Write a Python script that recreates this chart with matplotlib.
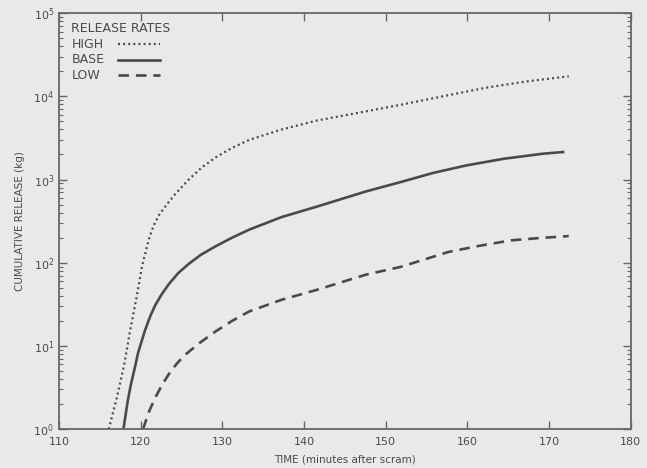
import matplotlib
matplotlib.use("Agg")
import matplotlib.pyplot as plt
from matplotlib.lines import Line2D
from matplotlib.ticker import LogLocator, NullFormatter

# time (minutes after scram) and cumulative release (kg) for each release rate
high_t = [116.1, 117.1, 118.0, 118.7, 119.5, 120.2, 121.0, 121.6, 122.3, 123.2,
          124.3, 125.9, 127.5, 129.2, 131.2, 133.3, 137.3, 141.5, 147.6, 151.8,
          157.0, 162.1, 167.0, 172.4]
high_kg = [1.0, 2.4, 6.0, 15, 38, 93, 190, 280, 380, 500,
           680, 1000, 1400, 1850, 2400, 3000, 4000, 5100, 6600, 7900,
           10000, 12600, 15000, 17400]

base_t = [117.9, 118.4, 118.8, 119.3, 119.7, 120.5, 121.2, 121.8, 122.6, 123.5,
          124.6, 125.9, 127.4, 129.2, 131.2, 133.3, 137.3, 141.5, 147.6, 151.8,
          155.8, 159.9, 164.5, 169.2, 171.7]
base_kg = [1.0, 2.1, 3.4, 5.5, 8.3, 15, 23, 31, 42, 56,
           75, 97, 125, 158, 200, 250, 355, 470, 720, 930,
           1200, 1480, 1780, 2040, 2140]

low_t = [120.3, 121.0, 121.8, 122.7, 123.7, 124.6, 125.5, 127.3, 129.2, 131.2,
         133.3, 137.3, 141.5, 147.6, 151.8, 157.7, 161.5, 165.4, 168.8, 172.4]
low_kg = [1.0, 1.6, 2.4, 3.5, 5.0, 6.4, 7.9, 11, 15, 20,
          26, 36, 47, 72, 89, 135, 160, 186, 198, 209]

x_ticks = [110, 120, 130, 140, 150, 160, 170, 180]

paper = "#e9e9e7"
ink = "#4a4a4a"

fig = plt.figure(figsize=(6.47, 4.68), dpi=100, facecolor=paper)
ax = fig.add_axes([0.091, 0.083, 0.884, 0.889], facecolor=paper)

ax.plot(high_t, high_kg, color=ink, lw=1.6, linestyle=(0, (0.9, 1.4)))
ax.plot(base_t, base_kg, color=ink, lw=1.9, linestyle="-")
ax.plot(low_t, low_kg, color=ink, lw=1.9, linestyle=(0, (4, 2.6)))

ax.set_yscale("log")
ax.set_xlim(110, 180)
ax.set_ylim(1, 1e5)
ax.set_xticks(x_ticks)
ax.yaxis.set_minor_locator(LogLocator(base=10, subs=range(2, 10)))
ax.yaxis.set_minor_formatter(NullFormatter())

for side in ax.spines.values():
    side.set_color("#666666")
    side.set_linewidth(1.3)

ax.tick_params(which="both", direction="in", top=True, right=True,
               colors="#666666", labelcolor=ink, labelsize=8)
ax.tick_params(which="major", length=6, width=1)
ax.tick_params(which="minor", length=3, width=0.8)
ax.tick_params(axis="x", which="minor", top=False, bottom=False)
ax.tick_params(axis="x", pad=6)

ax.set_xlabel("TIME (minutes after scram)", fontsize=7.5, color=ink, labelpad=5)
ax.set_ylabel("CUMULATIVE RELEASE (kg)", fontsize=7.5, color=ink, labelpad=6)

# legend block: labels on the left, line samples aligned on the right
ax.text(0.022, 0.962, "RELEASE RATES", transform=ax.transAxes, fontsize=9,
        color=ink, va="center", ha="left")
entries = [("HIGH", (0, (0.9, 1.4)), 1.6),
           ("BASE", "-", 1.9),
           ("LOW", (0, (4, 2.6)), 1.9)]
for i, (name, ls, lw) in enumerate(entries):
    yy = 0.925 - i * 0.037
    ax.text(0.022, yy, name, transform=ax.transAxes, fontsize=9,
            color=ink, va="center", ha="left")
    ax.add_line(Line2D([0.103, 0.176], [yy, yy], transform=ax.transAxes,
                       color=ink, lw=lw, linestyle=ls))

fig.savefig("out.png", dpi=100, facecolor=paper)
